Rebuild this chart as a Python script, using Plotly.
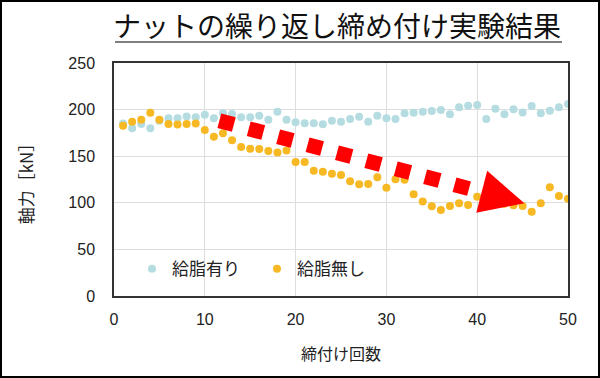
import numpy as np
import plotly.graph_objects as go

counts = list(range(1, 51))

greased = [185, 180, 184.5, 180, 188, 190.7, 190.7, 192.5, 191.8, 194.5,
           190.7, 196, 195.3, 191.7, 191.7, 193.5, 189, 197.8, 189, 186.4,
           185.3, 185.3, 184.2, 188, 187, 190, 192.4, 187, 193.5, 190.7,
           190, 196, 196.7, 197.8, 198.5, 199.6, 195, 202.5, 204.2, 205,
           190, 201, 195, 200.3, 197, 203.9, 196, 198.8, 202.5, 206]

dry = [182.7, 187, 189, 196.7, 189, 184.5, 184, 184.5, 185.2, 178,
       171, 174.5, 167, 160, 158, 157.7, 155.6, 154, 156, 143.8,
       143.8, 134.5, 133.4, 131.3, 129.8, 123.2, 120, 120.2, 127.4, 116.2,
       125.3, 124.8, 109.2, 101.5, 96.2, 92.3, 96.5, 99.4, 97.6, 106.5,
       104, 101, 99, 97.5, 96.5, 90.5, 99.4, 116.6, 107.3, 104.4]

series_names = ["給脂有り", "給脂無し"]
series_colors = ["#B5DDE1", "#F7B923"]

x_ticks = [0, 10, 20, 30, 40, 50]
y_ticks = [0, 50, 100, 150, 200, 250]

# decorative trend arrow (data coordinates)
arrow_start = (12.4, 186)
arrow_body_end = (38.3, 117.3)
n_dashes = 9
arrow_head = [(41.1, 134.5), (45.2, 99.5), (39.9, 89.4)]

fig = go.Figure()
for name, vals, col in zip(series_names, [greased, dry], series_colors):
    fig.add_trace(go.Scatter(
        x=counts, y=vals, mode="markers", name=name,
        marker=dict(color=col, size=8, line=dict(width=0)),
    ))

dash_x = np.linspace(arrow_start[0], arrow_body_end[0], n_dashes)
dash_y = np.linspace(arrow_start[1], arrow_body_end[1], n_dashes)
fig.add_trace(go.Scatter(
    x=dash_x, y=dash_y, mode="markers", showlegend=False, hoverinfo="skip",
    marker=dict(symbol="square", size=15, angle=15, color="#FF0000", line=dict(width=0)),
))
path = "M " + " L ".join(f"{px},{py}" for px, py in arrow_head) + " Z"
fig.add_shape(type="path", path=path, xref="x", yref="y",
              fillcolor="#FF0000", line=dict(width=0), layer="above")

L, R, T, B = 114, 32, 63, 82
W, H = 600, 378
pw, ph = W - L - R, H - T - B

# outer frame
fig.add_shape(type="rect", xref="paper", yref="paper",
              x0=-(L - 1) / pw, x1=1 + (R - 1) / pw,
              y0=-(B - 1) / ph, y1=1 + (T - 1) / ph,
              line=dict(color="black", width=2), layer="above")
# title underline
fig.add_shape(type="line", xref="paper", yref="paper",
              x0=(115 - L) / pw, x1=(562 - L) / pw,
              y0=1 + (T - 42) / ph, y1=1 + (T - 42) / ph,
              line=dict(color="black", width=1.2))

fig.update_layout(
    width=W, height=H,
    margin=dict(l=L, r=R, t=T, b=B),
    paper_bgcolor="white", plot_bgcolor="white",
    font=dict(family="Noto Sans CJK JP, Liberation Sans, Arial", color="#222222", size=16),
    title=dict(text="ナットの繰り返し締め付け実験結果", x=(113 - 0) / W, xanchor="left",
               y=1 - 27 / H, yanchor="middle",
               font=dict(size=28, family="Noto Sans CJK JP", color="#111111")),
    showlegend=True,
    legend=dict(orientation="h", x=(132 - L) / pw, y=0.115, xanchor="left", yanchor="middle",
                bgcolor="rgba(0,0,0,0)", font=dict(size=17), itemwidth=30,
                entrywidth=80, entrywidthmode="pixels", itemsizing="trace"),
    xaxis=dict(range=[0, 50], tickvals=x_ticks, showgrid=True, gridcolor="#DDDDDD",
               gridwidth=1, zeroline=False, showline=True, linecolor="#333333",
               linewidth=1.5, mirror=True, ticks="", ticklabelstandoff=8,
               tickfont=dict(size=16, family="Liberation Sans, Arial"),
               title=dict(text="締付け回数", font=dict(size=16), standoff=22)),
    yaxis=dict(range=[0, 250], tickvals=y_ticks, showgrid=True, gridcolor="#DDDDDD",
               gridwidth=1, zeroline=False, showline=True, linecolor="#333333",
               linewidth=1.5, mirror=True, ticks="", ticklabelstandoff=14,
               tickfont=dict(size=16, family="Liberation Sans, Arial"),
               title=dict(text="軸力［kN］", font=dict(size=17), standoff=30)),
)

fig.write_html("out.html", config={"displayModeBar": False},
               post_script="document.body.style.margin='0';document.body.style.padding='0';document.body.style.overflow='hidden';")
